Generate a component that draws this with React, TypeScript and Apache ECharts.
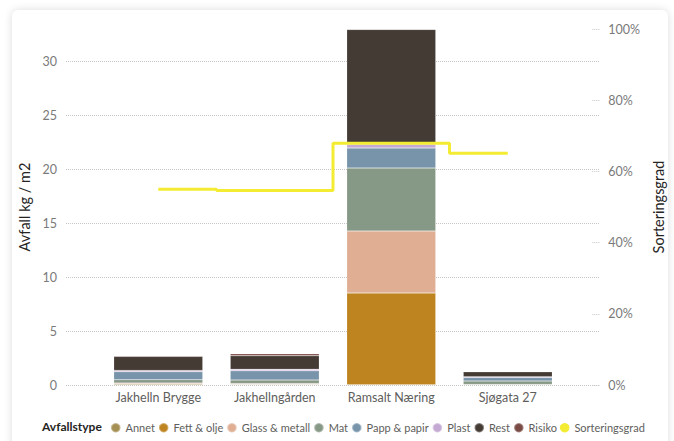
import React, { useEffect, useRef } from "react";
import * as echarts from "echarts";

const categories = ["Jakhelln Brygge", "Jakhellngården", "Ramsalt Næring", "Sjøgata 27"];
const annet = [0.1, 0.06, 0.02, 0.05];
const fettOlje = [0.0, 0.0, 8.5, 0.0];
const glassMetall = [0.08, 0.08, 5.76, 0.0];
const mat = [0.3, 0.32, 5.83, 0.32];
const pappPapir = [0.75, 0.85, 1.85, 0.33];
const plast = [0.12, 0.15, 0.35, 0.07];
const rest = [1.3, 1.25, 10.65, 0.46];
const risiko = [0.06, 0.18, 0.04, 0.02];
const sorteringsgrad = [0.55, 0.546, 0.679, 0.651];
const leftTicks = [0, 5, 10, 15, 20, 25, 30];

const stackSeries = [
  { name: "Annet", data: annet, color: "#A68F52" },
  { name: "Fett & olje", data: fettOlje, color: "#BE8420" },
  { name: "Glass & metall", data: glassMetall, color: "#DFAE93" },
  { name: "Mat", data: mat, color: "#869886" },
  { name: "Papp & papir", data: pappPapir, color: "#7894AA" },
  { name: "Plast", data: plast, color: "#C4AAD2" },
  { name: "Rest", data: rest, color: "#453B35" },
  { name: "Risiko", data: risiko, color: "#7A4A44" },
];

const FONT = "Lato, 'Open Sans', sans-serif";

export default function App() {
  const ref = useRef<HTMLDivElement>(null);
  useEffect(() => {
    if (!ref.current) return;
    const chart = echarts.init(ref.current, null, { renderer: "svg" });
    const option: any = {
      animation: false,
      textStyle: { fontFamily: FONT },
      grid: [
        { left: 66, right: 71, top: 29, bottom: 56 },
        { left: 100, right: 108, top: 29, bottom: 56 },
      ],
      legend: {
        left: 105,
        top: 417,
        width: 569,
        icon: "circle",
        itemWidth: 9.5,
        itemHeight: 9.5,
        itemGap: 3,
        lineStyle: { width: 0 },
        textStyle: { fontSize: 11, color: "#605E5C", fontFamily: FONT },
        data: [
          ...stackSeries.map((s) => ({ name: s.name, icon: "circle" })),
          { name: "Sorteringsgrad", icon: "circle", itemStyle: { color: "#F3EC32" } },
        ],
      },
      graphic: [
        {
          type: "text",
          left: 42,
          top: 420,
          style: {
            text: "Avfallstype",
            font: `bold 12px ${FONT}`,
            fill: "#252423",
          },
        },
      ],
      xAxis: [
        { type: "category", gridIndex: 0, data: categories, show: false },
        {
          type: "category",
          gridIndex: 1,
          data: categories,
          axisLine: { show: false },
          axisTick: { show: false },
          axisLabel: { color: "#605E5C", fontSize: 12.5, margin: 6, interval: 0, fontFamily: FONT },
        },
      ],
      yAxis: [
        {
          type: "value",
          gridIndex: 0,
          position: "left",
          min: leftTicks[0],
          max: 33,
          interval: 5,
          name: "Avfall kg / m2",
          nameLocation: "middle",
          nameGap: 30,
          nameTextStyle: { fontSize: 14.5, color: "#252423", fontFamily: FONT },
          axisLine: { show: false },
          axisTick: { show: false },
          axisLabel: { color: "#7A7A7A", fontSize: 12.5, margin: 9, showMaxLabel: false },
          splitLine: {
            show: true,
            showMaxLine: false,
            lineStyle: { type: "dotted", color: "#C8C6C4", width: 1 },
          },
        },
        {
          type: "value",
          gridIndex: 0,
          position: "right",
          min: 0,
          max: 1,
          interval: 0.2,
          name: "Sorteringsgrad",
          nameLocation: "middle",
          nameRotate: 90,
          nameGap: 48,
          nameTextStyle: { fontSize: 14.5, color: "#252423", fontFamily: FONT },
          axisLine: { show: false },
          axisTick: {
            show: true,
            inside: true,
            length: 8,
            lineStyle: { type: "dotted", color: "#C8C6C4" },
          },
          axisLabel: {
            color: "#7A7A7A",
            fontSize: 12.5,
            margin: 9,
            formatter: (v: number) => `${Math.round(v * 100)}%`,
          },
          splitLine: { show: false },
        },
        { type: "value", gridIndex: 1, min: 0, max: 33, show: false },
        { type: "value", gridIndex: 1, min: 0, max: 1, show: false },
      ],
      series: [
        ...stackSeries.map((s) => ({
          name: s.name,
          type: "bar",
          stack: "total",
          xAxisIndex: 1,
          yAxisIndex: 2,
          data: s.data,
          barWidth: 89,
          itemStyle: { color: s.color, borderColor: "rgba(255,255,255,0.35)", borderWidth: 0.5 },
          color: s.color,
        })),
        {
          name: "Sorteringsgrad",
          type: "line",
          xAxisIndex: 1,
          yAxisIndex: 3,
          step: "middle",
          data: sorteringsgrad,
          symbol: "none",
          color: "#F3EC32",
          lineStyle: { color: "#F3EC32", width: 3 },
          z: 5,
        },
      ],
    };
    chart.setOption(option);
    return () => chart.dispose();
  }, []);

  return (
    <div style={{ position: "fixed", left: 0, top: 0, width: 674, height: 441, background: "#ffffff", overflow: "hidden" }}>
      <div
        style={{
          position: "absolute",
          left: 12,
          top: 10,
          right: 6,
          bottom: -10,
          borderRadius: 6,
          background: "#ffffff",
          boxShadow: "0 0 8px rgba(0,0,0,0.14)",
        }}
      />
      <div ref={ref} style={{ position: "absolute", left: 0, top: 0, width: 674, height: 441 }} />
    </div>
  );
}
